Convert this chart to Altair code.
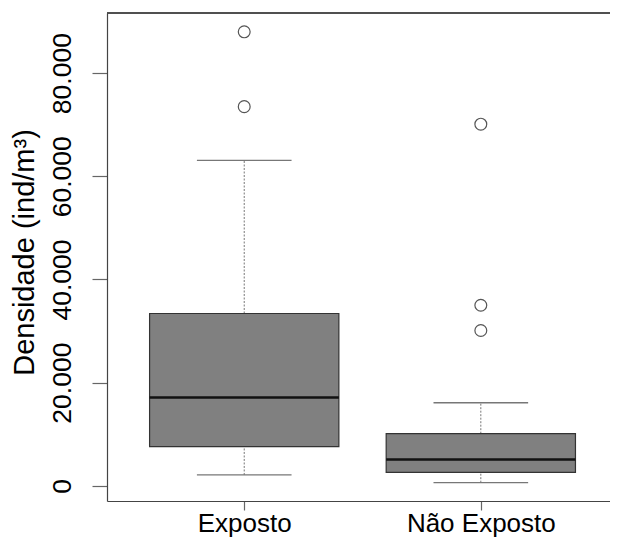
import json
import altair as alt
import pandas as pd

# ---- data ----
categories = ["Exposto", "Não Exposto"]
q1 = [7600, 2600]
medians = [17100, 5100]
q3 = [33400, 10100]
whisker_low = [2100, 600]
whisker_high = [63100, 16100]

outlier_group = ["Exposto", "Exposto", "Não Exposto", "Não Exposto", "Não Exposto"]
outlier_values = [88000, 73500, 70100, 35000, 30100]

y_ticks = [0, 20000, 40000, 60000, 80000]
y_title = "Densidade (ind/m³)"

# ---- tables ----
pos_map = {c: i + 1 for i, c in enumerate(categories)}
box_df = pd.DataFrame({
    "grupo": categories,
    "pos": [pos_map[c] for c in categories],
    "q1": q1,
    "mediana": medians,
    "q3": q3,
    "wlo": whisker_low,
    "whi": whisker_high,
})
out_df = pd.DataFrame({"grupo": outlier_group, "valor": outlier_values})
out_df["pos"] = out_df["grupo"].map(pos_map)

FONT = "Liberation Sans"
W, H = 503, 488
FRAME = "#444"

xscale = alt.Scale(domain=[0.42, 2.546], nice=False, zero=False)
yscale = alt.Scale(domain=[-2950, 91650], nice=False, zero=False)

label_expr = json.dumps(categories, ensure_ascii=False) + "[datum.value - 1]"

xaxis = alt.Axis(
    values=[1, 2], labelExpr=label_expr, title=None, grid=False,
    domain=True, domainColor=FRAME, domainWidth=1.2,
    tickSize=9, tickColor="#666", tickWidth=1.2,
    labelPadding=0, labelFontSize=26, labelFont=FONT, labelColor="black",
    labelBaseline="top", labelAlign="center", labelFlush=False, labelOverlap=False,
)
yaxis = alt.Axis(
    values=y_ticks, labelExpr="replace(format(datum.value, ','), ',', '.')",
    grid=False, domain=True, domainColor=FRAME, domainWidth=1.2,
    tickSize=15, tickColor="#666", tickWidth=1.2,
    labelAngle=270, labelAlign="center", labelBaseline="alphabetic",
    labelPadding=22, labelFontSize=26.5, labelFont=FONT, labelColor="black",
    labelFlush=False, labelOverlap=False, labelBound=False,
    title=y_title, titleAngle=270, titleX=-74, titleY=239,
    titleAlign="center", titleBaseline="alphabetic",
    titleFontSize=29, titleFont=FONT, titleFontWeight="normal", titleColor="black",
)

base = alt.Chart(box_df).transform_calculate(
    left="datum.pos - 0.4", right="datum.pos + 0.4",
    capl="datum.pos - 0.2", capr="datum.pos + 0.2",
)

boxes = base.mark_bar(fill="#808080", stroke="#333", strokeWidth=1.2, opacity=1).encode(
    x=alt.X("left:Q", scale=xscale, axis=xaxis),
    x2="right:Q",
    y=alt.Y("q1:Q", scale=yscale, axis=yaxis),
    y2="q3:Q",
)

median_line = base.mark_rule(color="#111", strokeWidth=2.6).encode(
    x=alt.X("left:Q", scale=xscale, axis=xaxis),
    x2="right:Q",
    y=alt.Y("mediana:Q", scale=yscale, axis=yaxis),
)

whisk_up = base.mark_rule(color="#777", strokeWidth=1, strokeDash=[2, 1.5]).encode(
    x=alt.X("pos:Q", scale=xscale, axis=xaxis),
    y=alt.Y("q3:Q", scale=yscale, axis=yaxis),
    y2="whi:Q",
)
whisk_down = base.mark_rule(color="#777", strokeWidth=1, strokeDash=[2, 1.5]).encode(
    x=alt.X("pos:Q", scale=xscale, axis=xaxis),
    y=alt.Y("wlo:Q", scale=yscale, axis=yaxis),
    y2="q1:Q",
)

cap_up = base.mark_rule(color="#777", strokeWidth=1.3).encode(
    x=alt.X("capl:Q", scale=xscale, axis=xaxis),
    x2="capr:Q",
    y=alt.Y("whi:Q", scale=yscale, axis=yaxis),
)
cap_down = base.mark_rule(color="#777", strokeWidth=1.3).encode(
    x=alt.X("capl:Q", scale=xscale, axis=xaxis),
    x2="capr:Q",
    y=alt.Y("wlo:Q", scale=yscale, axis=yaxis),
)

outliers = alt.Chart(out_df).mark_point(
    shape="circle", filled=False, size=140, stroke="#555", strokeWidth=1.2, opacity=1
).encode(
    x=alt.X("pos:Q", scale=xscale, axis=xaxis),
    y=alt.Y("valor:Q", scale=yscale, axis=yaxis),
)

# top edge of the plot frame (right edge runs off the page in the reference)
top_frame = alt.Chart(box_df).mark_rule(color=FRAME, strokeWidth=1.4).encode(
    x=alt.value(0), x2=alt.value(W), y=alt.value(0)
)

chart = alt.layer(
    whisk_up, whisk_down, cap_up, cap_down, boxes, median_line, outliers, top_frame
).properties(
    width=W, height=H,
    autosize=alt.AutoSizeParams(type="none"),
    padding={"left": 99, "top": 5, "right": 0, "bottom": 37},
    background="white",
).configure_view(
    stroke=None
)

chart.save("out.html", embed_options={"renderer": "svg", "actions": False})
